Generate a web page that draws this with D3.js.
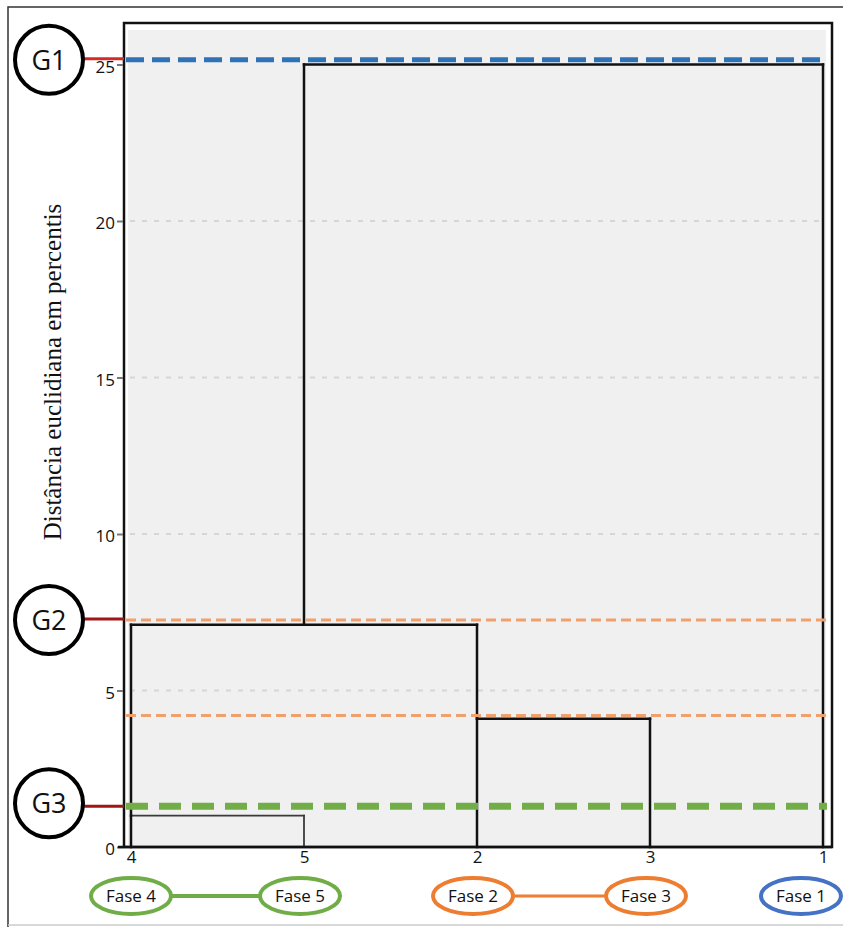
<!DOCTYPE html>
<html>
<head>
<meta charset="utf-8">
<script src="https://cdn.jsdelivr.net/npm/d3@7"></script>
<style>
  body { margin: 0; background: #fff; }
  svg { display: block; }
</style>
</head>
<body>
<div class="dendro"></div>
<script>
// leaves in display order
var leaves = ["4", "5", "2", "3", "1"]
var phases = ["Fase 4", "Fase 5", "Fase 2", "Fase 3", "Fase 1"]
var phaseGroups = [["4", "5"], ["2", "3"], ["1"]]

// merges: left node, right node, fusion height, leaf where the stem goes up
var merges = [
    {id: "A", left: "4", right: "5", height: 1.0, stem: "4"},
    {id: "B", left: "2", right: "3", height: 4.1, stem: "2"},
    {id: "C", left: "A", right: "B", height: 7.1, stem: "5"},
    {id: "D", left: "C", right: "1", height: 25.0, stem: null}
]

// cut levels (dashed lines) and group labels
var cutValues = [25.15, 7.25, 4.2, 1.3]
var cutKinds = ["g1", "g2", "g2", "g3"]
var groupLabels = ["G1", "G2", "G3"]
var groupValues = [25.15, 7.25, 1.3]
var yTicks = [0, 5, 10, 15, 20, 25]
var gridValues = [5, 10, 15, 20]

var W = 843, H = 927
var margin = {top: 23, right: 11, bottom: 80, left: 124}

var cutStyle = {
    g1: {color: "#2e72b8", width: 5, dash: "18,8"},
    g2: {color: "#f0a06c", width: 3, dash: "10,5"},
    g3: {color: "#72ad47", width: 7, dash: "22,11"}
}
var groupColor = ["#4472c4", "#ed7d31", "#70ad47"]

const svg = d3.select(".dendro")
    .append("svg")
    .attr("width", W)
    .attr("height", H)

// outer frame of the figure
svg.append("path")
    .attr("d", `M8,${H}V7H${W}`)
    .attr("fill", "none")
    .attr("stroke", "#333")
    .attr("stroke-width", 1.5)
svg.append("line")
    .attr("x1", 8).attr("x2", W).attr("y1", 925).attr("y2", 925)
    .attr("stroke", "#ccc").attr("stroke-width", 1.5)

var x = d3.scalePoint()
    .domain(leaves)
    .range([131, 823])

var y = d3.scaleLinear()
    .domain([0, 25])
    .range([847, 64.5])

// plot area
svg.append("rect")
    .attr("x", 128).attr("y", 30)
    .attr("width", 826 - 128).attr("height", 845 - 30)
    .attr("fill", "#f0f0f0")

// grid
svg.append("g").selectAll("line")
    .data(gridValues)
    .join("line")
    .attr("x1", 130).attr("x2", 826)
    .attr("y1", d => y(d)).attr("y2", d => y(d))
    .attr("stroke", "#d6d6d6")
    .attr("stroke-width", 2)
    .attr("stroke-dasharray", "5,7")

// frame
svg.append("path")
    .attr("d", `M${margin.left},847V${margin.top}H${W - margin.right}V847Z`)
    .attr("fill", "none")
    .attr("stroke", "#111")
    .attr("stroke-width", 2.5)

// y axis
var yAxis = svg.append("g")
    .attr("transform", `translate(${margin.left - 1},0)`)
    .call(d3.axisLeft(y).tickValues(yTicks).tickSize(6).tickPadding(2))
yAxis.select(".domain").remove()
yAxis.selectAll(".tick line").attr("stroke", "#777").attr("stroke-width", 2)
yAxis.selectAll(".tick text")
    .attr("font-family", "Open Sans, sans-serif")
    .attr("font-size", 17)
    .attr("fill", "#111")
    .attr("dy", "0.45em")

// x axis labels
var xAxis = svg.append("g")
    .attr("transform", "translate(0,849)")
    .call(d3.axisBottom(x).tickSize(0).tickPadding(2))
xAxis.select(".domain").remove()
xAxis.selectAll(".tick text")
    .attr("font-family", "Open Sans, sans-serif")
    .attr("font-size", 17)
    .attr("fill", "#111")

// y title
svg.append("text")
    .attr("transform", "translate(61,372) rotate(-90)")
    .attr("text-anchor", "middle")
    .attr("font-family", "Liberation Serif, Times New Roman, serif")
    .attr("font-size", 25)
    .attr("fill", "#111")
    .text("Distância euclidiana em percentis")

// dendrogram
var nodes = {}
leaves.forEach(function (d) {
    nodes[d] = {x: x(d), h: 0}
})
var links = []
merges.forEach(function (m) {
    var l = nodes[m.left], r = nodes[m.right]
    links.push({x1: l.x, y1: l.h, x2: l.x, y2: m.height, id: m.id, side: "l"})
    links.push({x1: r.x, y1: r.h, x2: r.x, y2: m.height, id: m.id, side: "r"})
    links.push({x1: l.x, y1: m.height, x2: r.x, y2: m.height, id: m.id, side: "h"})
    nodes[m.id] = {x: m.stem ? x(m.stem) : (l.x + r.x) / 2, h: m.height}
})

svg.append("g").selectAll("line")
    .data(links)
    .join("line")
    .attr("x1", d => d.x1).attr("x2", d => d.x2)
    .attr("y1", d => y(d.y1)).attr("y2", d => y(d.y2))
    .attr("stroke", d => d.id == "A" && d.side != "l" ? "#3a3a3a" : "#111")
    .attr("stroke-width", d => d.id == "A" && d.side != "l" ? 1.8 : 2.5)
    .attr("stroke-linecap", "square")

// axis line at zero
svg.append("line")
    .attr("x1", margin.left - 6).attr("x2", W - margin.right)
    .attr("y1", y(0)).attr("y2", y(0))
    .attr("stroke", "#111").attr("stroke-width", 2.5)

// cut lines
svg.append("g").selectAll("line")
    .data(cutValues)
    .join("line")
    .attr("x1", 126).attr("x2", 827)
    .attr("y1", d => y(d)).attr("y2", d => y(d))
    .attr("stroke", (d, i) => cutStyle[cutKinds[i]].color)
    .attr("stroke-width", (d, i) => cutStyle[cutKinds[i]].width)
    .attr("stroke-dasharray", (d, i) => cutStyle[cutKinds[i]].dash)

// group circles
var groups = svg.append("g").selectAll("g")
    .data(groupLabels)
    .join("g")
    .attr("transform", (d, i) => `translate(49,${y(groupValues[i]) - (i == 2 ? 3 : 0)})`)
groups.append("line")
    .attr("x1", 35).attr("x2", margin.left - 49)
    .attr("y1", (d, i) => i == 2 ? 3 : -1).attr("y2", (d, i) => i == 2 ? 3 : -1)
    .attr("stroke", (d, i) => i == 0 ? "#d42a2a" : "#a01515")
    .attr("stroke-width", 3)
groups.append("circle")
    .attr("r", 34)
    .attr("fill", "#fff")
    .attr("stroke", "#000")
    .attr("stroke-width", 4)
groups.append("text")
    .attr("text-anchor", "middle")
    .attr("dy", "0.36em")
    .attr("font-family", "Open Sans, sans-serif")
    .attr("font-size", 27)
    .attr("fill", "#111")
    .text(d => d)

// phase ellipses
var phaseY = 896
var phaseX = function (i) {
    return Math.min(x(leaves[i]) - (i == 0 ? 0 : 4), W - 42)
}
phaseGroups.forEach(function (g, gi) {
    if (g.length > 1) {
        svg.append("line")
            .attr("x1", phaseX(leaves.indexOf(g[0]))).attr("x2", phaseX(leaves.indexOf(g[1])))
            .attr("y1", phaseY).attr("y2", phaseY)
            .attr("stroke", groupColor[2 - gi])
            .attr("stroke-width", gi == 0 ? 4 : 3)
    }
})
var ph = svg.append("g").selectAll("g")
    .data(phases)
    .join("g")
    .attr("transform", (d, i) => `translate(${phaseX(i)},${phaseY})`)
var colorOf = function (i) {
    var gi = phaseGroups.findIndex(g => g.indexOf(leaves[i]) >= 0)
    return groupColor[2 - gi]
}
ph.append("ellipse")
    .attr("rx", 40).attr("ry", 18)
    .attr("fill", "#fff")
    .attr("stroke", (d, i) => colorOf(i))
    .attr("stroke-width", 4)
ph.append("text")
    .attr("text-anchor", "middle")
    .attr("dy", "0.35em")
    .attr("font-family", "Open Sans, sans-serif")
    .attr("font-size", 17)
    .attr("fill", "#111")
    .text(d => d)
</script>
</body>
</html>
